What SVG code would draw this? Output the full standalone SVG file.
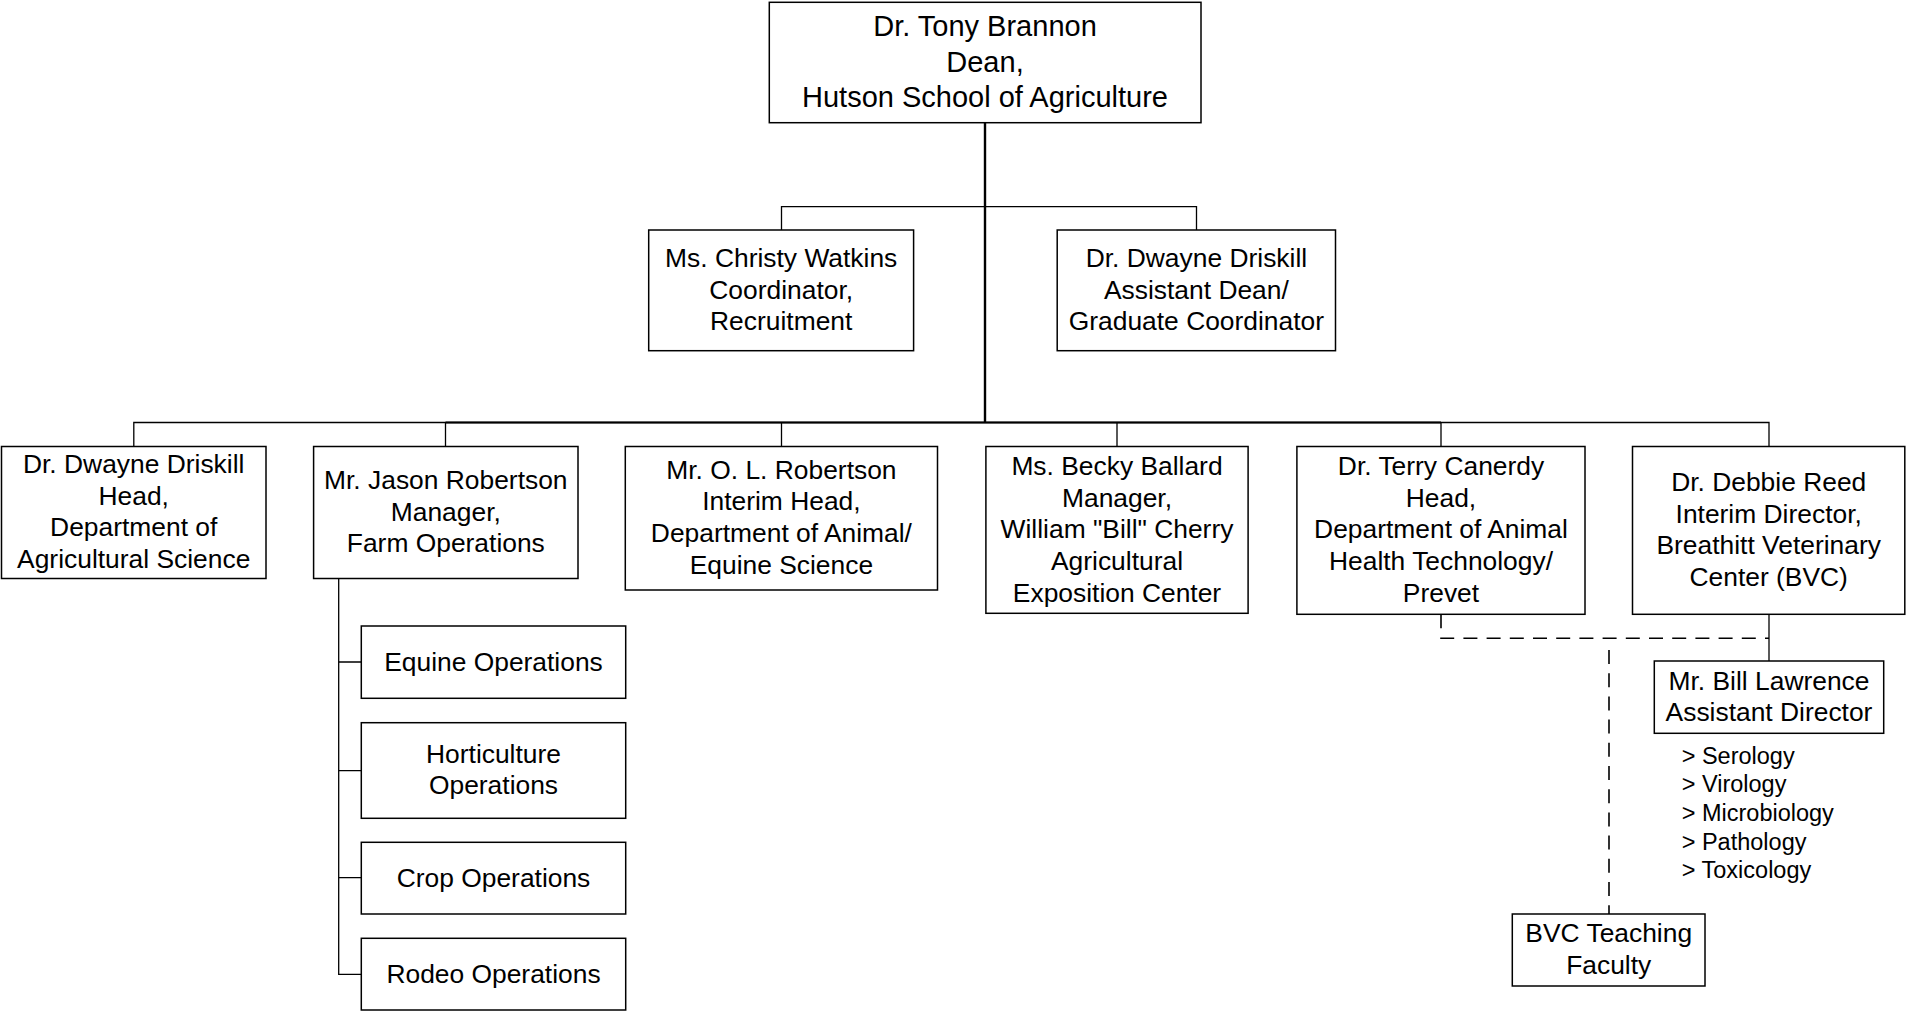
<svg xmlns="http://www.w3.org/2000/svg" width="1907" height="1013" viewBox="0 0 1907 1013">
<style>
  .box { fill: #ffffff; stroke: #000000; stroke-width: 1.5; }
  .t { font-family: "Liberation Sans", Arial, sans-serif; font-size: 26.4px; fill: #000000; text-anchor: middle; }
  .tb { font-family: "Liberation Sans", Arial, sans-serif; font-size: 29px; fill: #000000; text-anchor: middle; }
  .lst { font-family: "Liberation Sans", Arial, sans-serif; font-size: 23.5px; fill: #000000; }
  .ln { fill: none; stroke: #000000; stroke-width: 1.3; }
  .thick { fill: none; stroke: #000000; stroke-width: 2.4; }
  .mid { fill: none; stroke: #000000; stroke-width: 2; }
  .dash { fill: none; stroke: #000000; stroke-width: 1.6; stroke-dasharray: 14 9.2; }
</style>
<rect width="1907" height="1013" fill="#ffffff"/>

<g id="connectors">
  <path class="ln" d="M781.5 230 V206.7 H1196.5 V230"/>
  <path class="ln" d="M133.8 446.5 V422.5 H1769 V446.5"/>
  <path class="ln" d="M445.5 422.5 V446.5 M781.5 422.5 V446.5 M1117 422.5 V446.5 M1441 422.5 V446.5"/>
  <path class="mid" d="M445.5 422.5 H1441"/>
  <path class="thick" d="M985 123 V422.5"/>
  <path class="ln" d="M338.7 578.5 V974.3 H361.3 M338.7 662 H361.3 M338.7 770.7 H361.3 M338.7 877.7 H361.3"/>
  <path class="ln" d="M1769 614.3 V661"/>
  <path class="dash" d="M1441 614.3 V638.3 H1769"/>
  <path class="dash" d="M1609 650 V914"/>
</g>

<g id="dean">
  <rect class="box" x="769.3" y="2.3" width="431.7" height="120.4"/>
  <text class="tb" x="985" y="36">Dr. Tony Brannon</text>
  <text class="tb" x="985" y="71.5">Dean,</text>
  <text class="tb" x="985" y="107">Hutson School of Agriculture</text>
</g>

<g id="watkins">
  <rect class="box" x="648.7" y="230" width="264.9" height="120.7"/>
  <text class="t" x="781.2" y="267">Ms. Christy Watkins</text>
  <text class="t" x="781.2" y="298.7">Coordinator,</text>
  <text class="t" x="781.2" y="330.4">Recruitment</text>
</g>

<g id="driskill-asst">
  <rect class="box" x="1057.2" y="230" width="278.3" height="120.7"/>
  <text class="t" x="1196.4" y="267">Dr. Dwayne Driskill</text>
  <text class="t" x="1196.4" y="298.7">Assistant Dean/</text>
  <text class="t" x="1196.4" y="330.4">Graduate Coordinator</text>
</g>

<g id="driskill-head">
  <rect class="box" x="1.5" y="446.5" width="264.5" height="132"/>
  <text class="t" x="133.7" y="473">Dr. Dwayne Driskill</text>
  <text class="t" x="133.7" y="504.7">Head,</text>
  <text class="t" x="133.7" y="536.4">Department of</text>
  <text class="t" x="133.7" y="568.1">Agricultural Science</text>
</g>

<g id="jason">
  <rect class="box" x="313.6" y="446.5" width="264.4" height="132"/>
  <text class="t" x="445.8" y="489">Mr. Jason Robertson</text>
  <text class="t" x="445.8" y="520.7">Manager,</text>
  <text class="t" x="445.8" y="552.4">Farm Operations</text>
</g>

<g id="ol-robertson">
  <rect class="box" x="625.3" y="446.5" width="312.2" height="143.5"/>
  <text class="t" x="781.4" y="478.5">Mr. O. L. Robertson</text>
  <text class="t" x="781.4" y="510.2">Interim Head,</text>
  <text class="t" x="781.4" y="541.9">Department of Animal/</text>
  <text class="t" x="781.4" y="573.6">Equine Science</text>
</g>

<g id="becky">
  <rect class="box" x="985.9" y="446.5" width="262.2" height="166.8"/>
  <text class="t" x="1117" y="475">Ms. Becky Ballard</text>
  <text class="t" x="1117" y="506.7">Manager,</text>
  <text class="t" x="1117" y="538.4">William "Bill" Cherry</text>
  <text class="t" x="1117" y="570.1">Agricultural</text>
  <text class="t" x="1117" y="601.8">Exposition Center</text>
</g>

<g id="terry">
  <rect class="box" x="1296.9" y="446.5" width="288.1" height="167.8"/>
  <text class="t" x="1441" y="475">Dr. Terry Canerdy</text>
  <text class="t" x="1441" y="506.7">Head,</text>
  <text class="t" x="1441" y="538.4">Department of Animal</text>
  <text class="t" x="1441" y="570.1">Health Technology/</text>
  <text class="t" x="1441" y="601.8">Prevet</text>
</g>

<g id="debbie">
  <rect class="box" x="1632.5" y="446.5" width="272.3" height="167.8"/>
  <text class="t" x="1768.7" y="491">Dr. Debbie Reed</text>
  <text class="t" x="1768.7" y="522.7">Interim Director,</text>
  <text class="t" x="1768.7" y="554.4">Breathitt Veterinary</text>
  <text class="t" x="1768.7" y="586.1">Center (BVC)</text>
</g>

<g id="bill">
  <rect class="box" x="1654.3" y="661" width="229.4" height="72.3"/>
  <text class="t" x="1769" y="689.5">Mr. Bill Lawrence</text>
  <text class="t" x="1769" y="721.2">Assistant Director</text>
</g>

<g id="bill-list">
  <text class="lst" x="1681.7" y="763.5">&gt; Serology</text>
  <text class="lst" x="1681.7" y="792.2">&gt; Virology</text>
  <text class="lst" x="1681.7" y="820.9">&gt; Microbiology</text>
  <text class="lst" x="1681.7" y="849.6">&gt; Pathology</text>
  <text class="lst" x="1681.7" y="878.3">&gt; Toxicology</text>
</g>

<g id="equine">
  <rect class="box" x="361.3" y="626" width="264.4" height="72.3"/>
  <text class="t" x="493.5" y="670.5">Equine Operations</text>
</g>

<g id="horticulture">
  <rect class="box" x="361.3" y="722.7" width="264.4" height="95.6"/>
  <text class="t" x="493.5" y="762.5">Horticulture</text>
  <text class="t" x="493.5" y="794.2">Operations</text>
</g>

<g id="crop">
  <rect class="box" x="361.3" y="842.3" width="264.4" height="71.7"/>
  <text class="t" x="493.5" y="886.5">Crop Operations</text>
</g>

<g id="rodeo">
  <rect class="box" x="361.3" y="938.3" width="264.4" height="71.7"/>
  <text class="t" x="493.5" y="982.5">Rodeo Operations</text>
</g>

<g id="bvc-faculty">
  <rect class="box" x="1512.3" y="914" width="192.7" height="72"/>
  <text class="t" x="1608.7" y="942">BVC Teaching</text>
  <text class="t" x="1608.7" y="973.7">Faculty</text>
</g>
</svg>
